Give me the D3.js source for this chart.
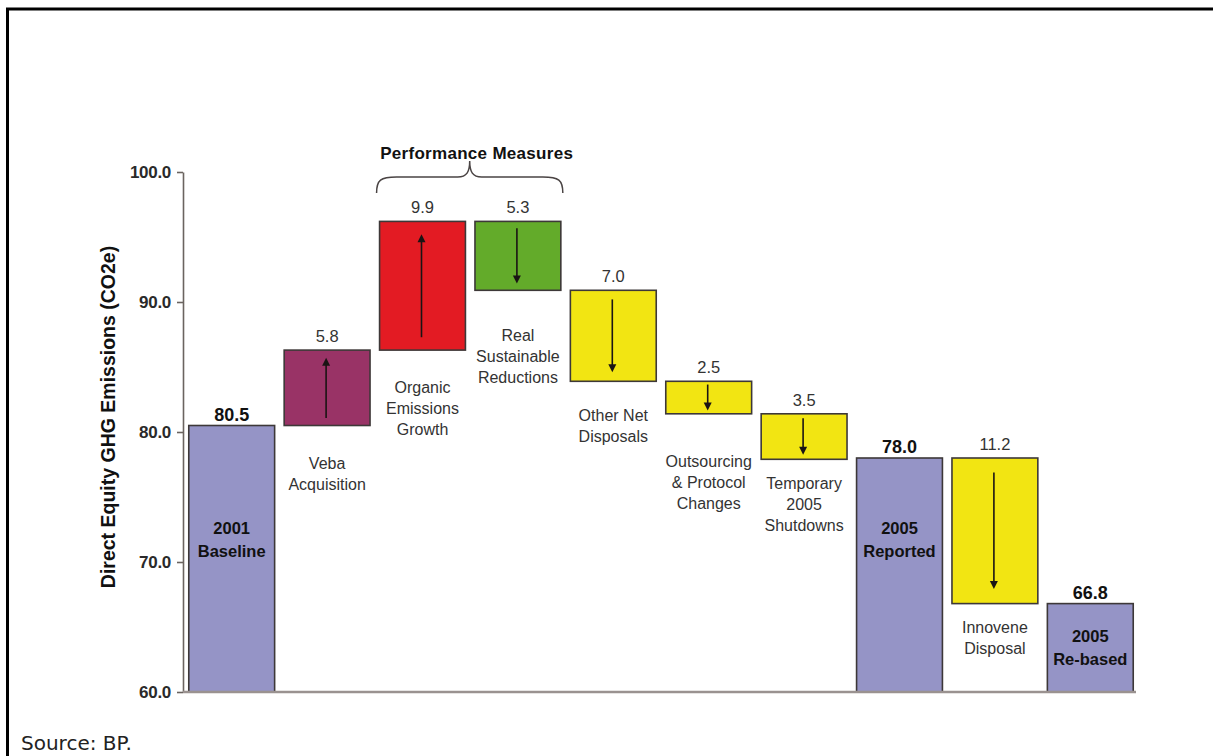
<!DOCTYPE html>
<html>
<head>
<meta charset="utf-8">
<script src="https://cdn.jsdelivr.net/npm/d3@7"></script>
<style>
  html, body { margin: 0; padding: 0; background: #fff; }
  svg { display: block; font-family: Arial, "Liberation Sans", sans-serif; }
</style>
</head>
<body>
<svg id="chart"></svg>
<script>
// Data
const categories = ['2001 Baseline', 'Veba Acquisition', 'Organic Emissions Growth', 'Real Sustainable Reductions',
  'Other Net Disposals', 'Outsourcing & Protocol Changes', 'Temporary 2005 Shutdowns', '2005 Reported',
  'Innovene Disposal', '2005 Re-based'];
const labelLines = [['2001', 'Baseline'], ['Veba', 'Acquisition'], ['Organic', 'Emissions', 'Growth'],
  ['Real', 'Sustainable', 'Reductions'], ['Other Net', 'Disposals'], ['Outsourcing', '& Protocol', 'Changes'],
  ['Temporary', '2005', 'Shutdowns'], ['2005', 'Reported'], ['Innovene', 'Disposal'], ['2005', 'Re-based']];
const values = [80.5, 5.8, 9.9, -5.3, -7.0, -2.5, -3.5, 78.0, -11.2, 66.8];
const isTotal = [true, false, false, false, false, false, false, true, false, true];
const yTicks = [60, 70, 80, 90, 100];
const yTitle = 'Direct Equity GHG Emissions (CO2e)';
const braceTitle = 'Performance Measures';
const source = 'Source: BP.';

// styling / layout
const fills = ['#9594c6', '#993366', '#e31b23', '#63ab2a', '#f2e512', '#f2e512', '#f2e512', '#9594c6', '#f2e512', '#9594c6'];
const labelGap = [0, 38, 38, 46, 35, 48, 25, 0, 24, 0];
const width = 1213, height = 756;

const svg = d3.select('#chart').attr('width', width).attr('height', height);

// frame (only top/left edges fall inside the picture)
svg.append('rect')
  .attr('x', 7.5).attr('y', 9)
  .attr('width', 1400).attr('height', 900)
  .attr('fill', 'none').attr('stroke', '#000').attr('stroke-width', 3);

const y = d3.scaleLinear().domain([60, 100]).range([692, 172]);
const x = d3.scaleBand().domain(categories).range([184, 1138]).paddingInner(0.1).paddingOuter(0.05);

// build waterfall segments
let running = 60;
const bars = categories.map((c, i) => {
  let lo, hi;
  if (isTotal[i]) {
    lo = 60; hi = values[i]; running = values[i];
  } else {
    const start = running;
    running = start + values[i];
    lo = Math.min(start, running); hi = Math.max(start, running);
  }
  return { cat: c, i, lo, hi, v: values[i], total: isTotal[i] };
});

// y axis
const axis = svg.append('g')
  .attr('transform', 'translate(183,0)')
  .call(d3.axisLeft(y).tickValues(yTicks).tickFormat(d3.format('.1f')).tickSize(6).tickSizeOuter(0).tickPadding(6));
axis.select('.domain').attr('stroke', '#6b6460').attr('stroke-width', 1.6);
axis.selectAll('.tick line').attr('stroke', '#6b6460').attr('stroke-width', 1.6);
axis.selectAll('.tick text')
  .attr('fill', '#2a2a2a').style('font-size', '17px').style('font-weight', 'bold')
  .style('letter-spacing', '-0.3px')
  .style('font-family', 'Arial, "Liberation Sans", sans-serif');

// bars
svg.selectAll('.bar')
  .data(bars)
  .enter()
  .append('rect')
    .attr('class', 'bar')
    .attr('x', d => x(d.cat))
    .attr('y', d => y(d.hi))
    .attr('width', x.bandwidth())
    .attr('height', d => y(d.lo) - y(d.hi))
    .attr('fill', (d, i) => fills[i])
    .attr('stroke', '#3d3838')
    .attr('stroke-width', 1.6);

// baseline along the bottom
svg.append('line')
  .attr('x1', 183).attr('x2', 1136)
  .attr('y1', y(60)).attr('y2', y(60))
  .attr('stroke', '#9a9290').attr('stroke-width', 2.5);

// arrows inside the change bars
const deltas = bars.filter(d => !d.total);
deltas.forEach(d => {
  const top = y(d.hi), bot = y(d.lo);
  const m = Math.max(3, Math.min(16, (bot - top) * 0.1));
  const cx = x(d.cat) + x.bandwidth() / 2 - 1;
  const from = d.v > 0 ? bot - m : top + m;
  const tip = d.v > 0 ? top + m : bot - m;
  const dir = d.v > 0 ? -1 : 1;
  svg.append('line')
    .attr('x1', cx).attr('x2', cx)
    .attr('y1', from).attr('y2', tip - dir * 6)
    .attr('stroke', '#1a1414').attr('stroke-width', 1.6);
  svg.append('path')
    .attr('d', `M${cx - 4},${tip - dir * 8} L${cx + 4},${tip - dir * 8} L${cx},${tip} Z`)
    .attr('fill', '#1a1414');
});

// value labels above each bar
svg.selectAll('.val')
  .data(bars)
  .enter()
  .append('text')
    .attr('class', 'val')
    .attr('x', d => x(d.cat) + x.bandwidth() / 2)
    .attr('y', d => y(d.hi) - (d.total ? 5 : 8))
    .attr('text-anchor', 'middle')
    .attr('fill', d => d.total ? '#111' : '#333')
    .style('font-size', d => d.total ? '18px' : '16.5px')
    .style('font-weight', d => d.total ? 'bold' : 'normal')
    .text(d => d3.format('.1f')(Math.abs(d.v)));

// category labels: inside the totals, underneath the changes
bars.forEach(d => {
  const lines = labelLines[d.i];
  const cx = x(d.cat) + x.bandwidth() / 2;
  let first;
  if (d.total) {
    const top = y(d.hi), bot = y(d.lo);
    const center = (bot - top) > 150 ? y(71.7) : (top + bot) / 2;
    first = center - 11.5 * (lines.length - 1) + 6;
  } else {
    first = y(d.lo) + labelGap[d.i] + 5;
  }
  const t = svg.append('text')
    .attr('text-anchor', 'middle')
    .attr('fill', d.total ? '#111' : '#333')
    .style('font-size', d.total ? '16.5px' : '16px')
    .style('font-weight', d.total ? 'bold' : 'normal');
  lines.forEach((ln, k) => {
    t.append('tspan')
      .attr('x', cx)
      .attr('y', first + k * (d.total ? 23 : 21))
      .text(ln);
  });
});

// brace over the two performance measures
const bx0 = x(categories[2]) - 3;
const bx1 = x(categories[3]) + x.bandwidth() + 2;
const bmid = (bx0 + bx1) / 2;
const by = 177, bend = 193, btip = 161;
svg.append('path')
  .attr('d', `M${bx0},${bend} C${bx0},${by + 3} ${bx0 + 4},${by} ${bx0 + 20},${by}
    L${bmid - 12},${by} C${bmid - 3},${by} ${bmid},${by - 5} ${bmid},${btip}
    C${bmid},${by - 5} ${bmid + 3},${by} ${bmid + 12},${by}
    L${bx1 - 20},${by} C${bx1 - 4},${by} ${bx1},${by + 3} ${bx1},${bend}`)
  .attr('fill', 'none').attr('stroke', '#4a4444').attr('stroke-width', 1.5);
svg.append('text')
  .attr('x', bmid + 7).attr('y', 159)
  .attr('text-anchor', 'middle')
  .attr('fill', '#111')
  .style('font-size', '17px').style('font-weight', 'bold').style('letter-spacing', '0.3px')
  .text(braceTitle);

// y axis title
svg.append('text')
  .attr('transform', 'translate(115,417) rotate(-90)')
  .attr('text-anchor', 'middle')
  .attr('fill', '#111')
  .style('font-size', '19.5px').style('font-weight', 'bold')
  .text(yTitle);

// source note
svg.append('text')
  .attr('x', 21).attr('y', 750)
  .attr('fill', '#222')
  .style('font-size', '20px')
  .style('font-family', '"DejaVu Sans", sans-serif')
  .text(source);
</script>
</body>
</html>
